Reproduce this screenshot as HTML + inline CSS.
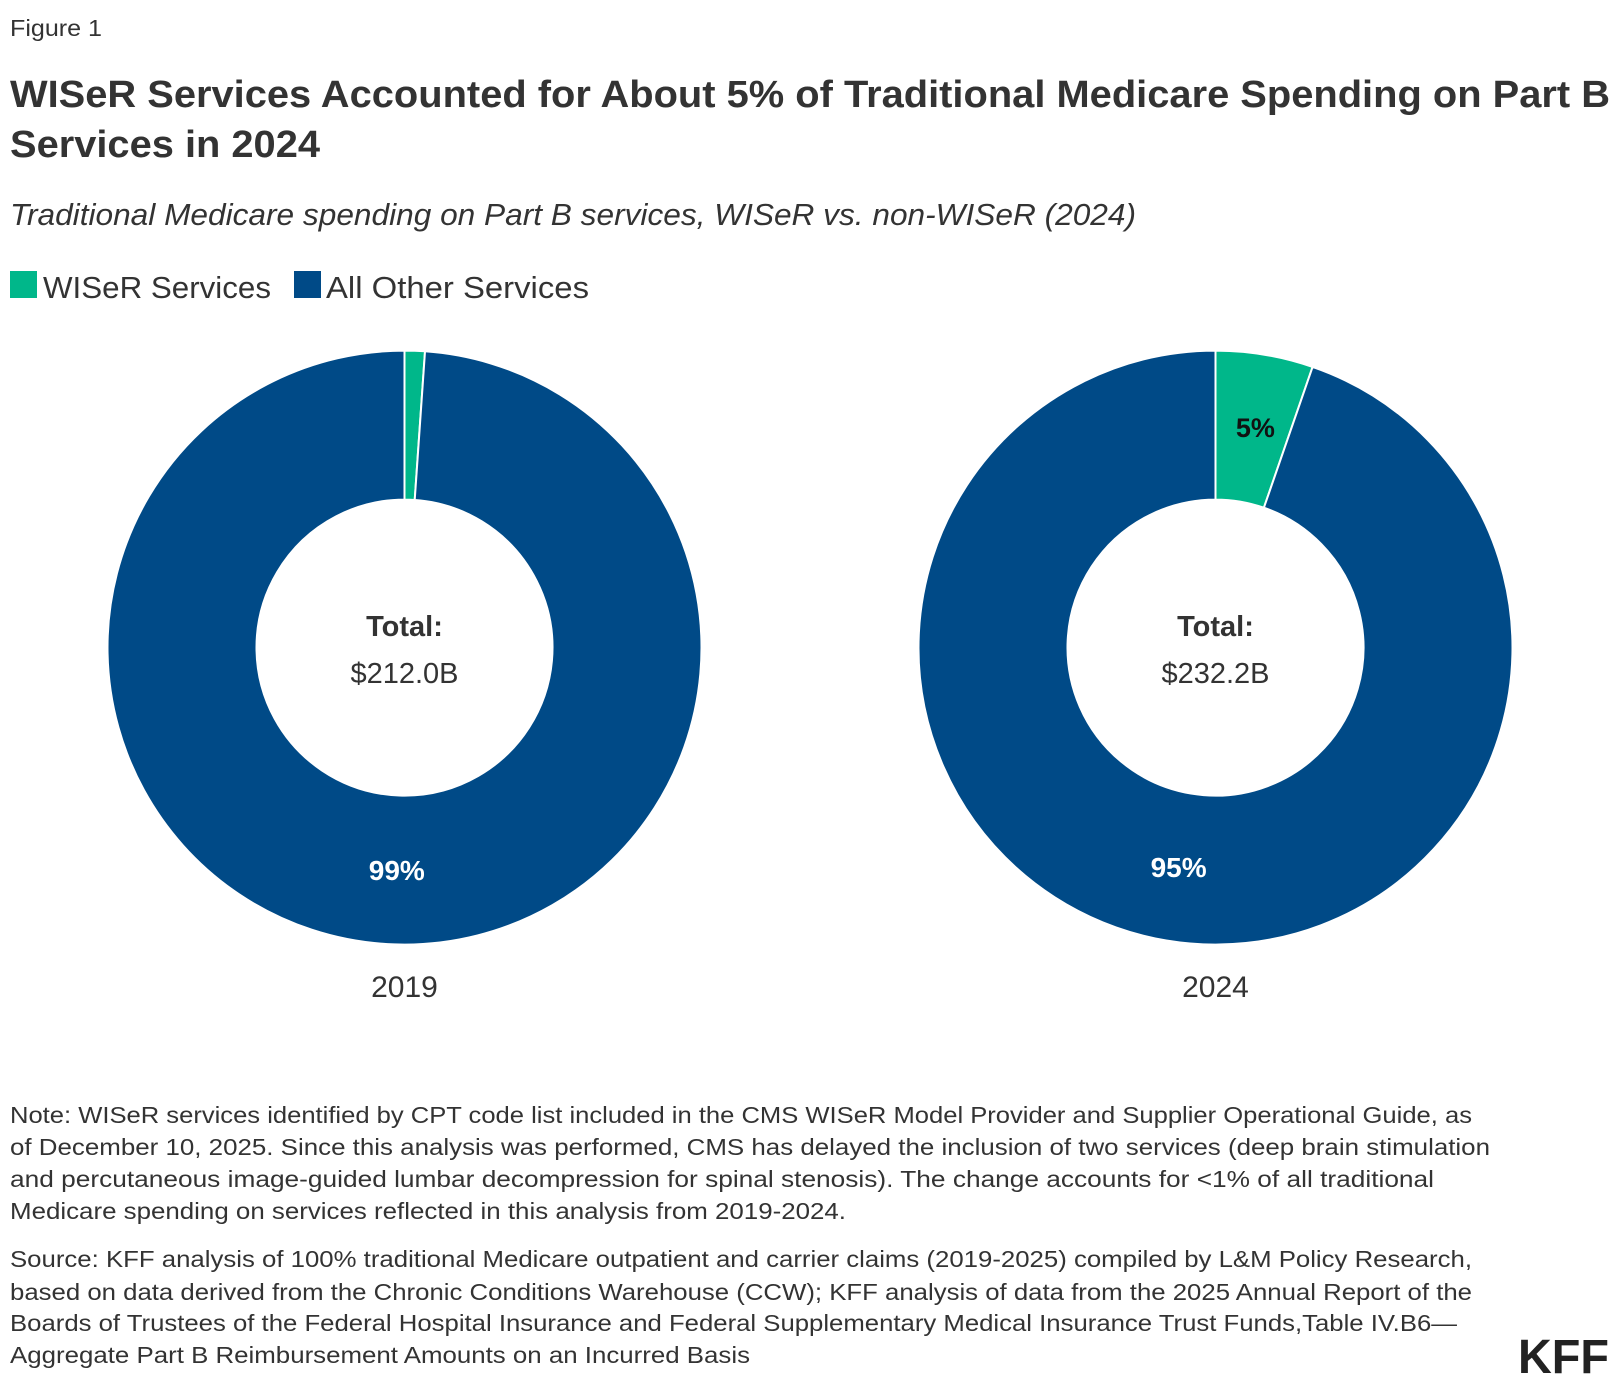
<!DOCTYPE html>
<html><head><meta charset="utf-8"><style>
html,body{margin:0;padding:0;background:#fff}
svg{display:block}
text{font-family:"Liberation Sans",sans-serif;fill:#333}
</style></head><body>
<svg id="chart" width="1620" height="1386" viewBox="0 0 1620 1386">
<text x="10" y="36" font-size="23" textLength="92" lengthAdjust="spacingAndGlyphs">Figure 1</text>
<text x="10" y="107" font-size="38" font-weight="bold" textLength="1600" lengthAdjust="spacingAndGlyphs">WISeR Services Accounted for About 5% of Traditional Medicare Spending on Part B</text>
<text x="10" y="157" font-size="38" font-weight="bold" textLength="310" lengthAdjust="spacingAndGlyphs">Services in 2024</text>
<text x="10" y="225" font-size="31" font-style="italic" textLength="1126" lengthAdjust="spacingAndGlyphs">Traditional Medicare spending on Part B services, WISeR vs. non-WISeR (2024)</text>
<g>
<rect x="10" y="271" width="27" height="27" fill="#00b78a"/>
<text x="43" y="298" font-size="31" textLength="228" lengthAdjust="spacingAndGlyphs">WISeR Services</text>
<rect x="294" y="271" width="27" height="27" fill="#004a87"/>
<text x="326" y="298" font-size="31" textLength="263" lengthAdjust="spacingAndGlyphs">All Other Services</text>
</g>
<g id="pies"></g>
<g font-size="23">
<text x="10" y="1123" textLength="1462" lengthAdjust="spacingAndGlyphs">Note: WISeR services identified by CPT code list included in the CMS WISeR Model Provider and Supplier Operational Guide, as</text>
<text x="10" y="1155" textLength="1480" lengthAdjust="spacingAndGlyphs">of December 10, 2025. Since this analysis was performed, CMS has delayed the inclusion of two services (deep brain stimulation</text>
<text x="10" y="1187" textLength="1424" lengthAdjust="spacingAndGlyphs">and percutaneous image-guided lumbar decompression for spinal stenosis). The change accounts for &lt;1% of all traditional</text>
<text x="10" y="1219" textLength="836" lengthAdjust="spacingAndGlyphs">Medicare spending on services reflected in this analysis from 2019-2024.</text>
<text x="10" y="1267" textLength="1462" lengthAdjust="spacingAndGlyphs">Source: KFF analysis of 100% traditional Medicare outpatient and carrier claims (2019-2025) compiled by L&amp;M Policy Research,</text>
<text x="10" y="1300" textLength="1462" lengthAdjust="spacingAndGlyphs">based on data derived from the Chronic Conditions Warehouse (CCW); KFF analysis of data from the 2025 Annual Report of the</text>
<text x="10" y="1331" textLength="1447" lengthAdjust="spacingAndGlyphs">Boards of Trustees of the Federal Hospital Insurance and Federal Supplementary Medical Insurance Trust Funds,Table IV.B6—</text>
<text x="10" y="1363" textLength="740" lengthAdjust="spacingAndGlyphs">Aggregate Part B Reimbursement Amounts on an Incurred Basis</text>
</g>
<text x="1518" y="1373" font-size="48" font-weight="bold" textLength="91" lengthAdjust="spacingAndGlyphs" style="fill:#222">KFF</text>
</svg>
<script>
const years = ["2019", "2024"];
const totals = ["$212.0B", "$232.2B"];
const wiserShare = [1.1, 5.3];
const otherShare = [98.9, 94.7];
const wiserLabels = ["", "5%"];
const otherLabels = ["99%", "95%"];

const NS = "http://www.w3.org/2000/svg";
const g = document.getElementById("pies");
const centersX = [404.5, 1215.5];
const cy = 647.6, rOut = 297, rIn = 148;
function pt(r, a, cx) { return [cx + r * Math.sin(a), cy - r * Math.cos(a)]; }
function arc(cx, a0, a1) {
  const [x0, y0] = pt(rOut, a0, cx), [x1, y1] = pt(rOut, a1, cx);
  const [x2, y2] = pt(rIn, a1, cx), [x3, y3] = pt(rIn, a0, cx);
  const lg = (a1 - a0) > Math.PI ? 1 : 0;
  return `M${x0},${y0}A${rOut},${rOut} 0 ${lg} 1 ${x1},${y1}L${x2},${y2}A${rIn},${rIn} 0 ${lg} 0 ${x3},${y3}Z`;
}
function mk(tag, attrs) { const e = document.createElementNS(NS, tag); for (const k in attrs) e.setAttribute(k, attrs[k]); return e; }
years.forEach((yr, i) => {
  const cx = centersX[i];
  const tot = wiserShare[i] + otherShare[i];
  const aW = wiserShare[i] / tot * 2 * Math.PI;
  const s1 = mk("path", { d: arc(cx, 0, aW), fill: "#00b78a", stroke: "#fff", "stroke-width": 2 });
  
  
  g.appendChild(s1);
  const s2 = mk("path", { d: arc(cx, aW, 2 * Math.PI - 0.00001), fill: "#004a87", stroke: "#fff", "stroke-width": 2 });
  
  
  g.appendChild(s2);
  const rm = (rOut + rIn) / 2;
  if (wiserLabels[i]) {
    const [lx, ly] = pt(rm, aW / 2, cx);
    const t = mk("text", { x: lx + 3, y: ly + 9, "text-anchor": "middle", "font-size": 27, "font-weight": "bold" });
    t.style.fill = "#111";
    t.textContent = wiserLabels[i];
    
    
    g.appendChild(t);
  }
  const aMid = aW + (2 * Math.PI - aW) / 2;
  const [ox, oy] = pt(rm, aMid, cx);
  const t2 = mk("text", { x: ox, y: oy + 10, "text-anchor": "middle", "font-size": 28, "font-weight": "bold" });
  t2.style.fill = "#fff";
  t2.textContent = otherLabels[i];
  
  
  g.appendChild(t2);
  const tt = mk("text", { x: cx, y: 636, "text-anchor": "middle", "font-size": 29, "font-weight": "bold" });
  tt.textContent = "Total:";
  
  
  g.appendChild(tt);
  const tv = mk("text", { x: cx, y: 683, "text-anchor": "middle", "font-size": 29 });
  tv.textContent = totals[i];
  
  
  g.appendChild(tv);
  const yl = mk("text", { x: cx, y: 997, "text-anchor": "middle", "font-size": 30 });
  yl.textContent = yr;
  
  
  g.appendChild(yl);
});
</script>
</body></html>
